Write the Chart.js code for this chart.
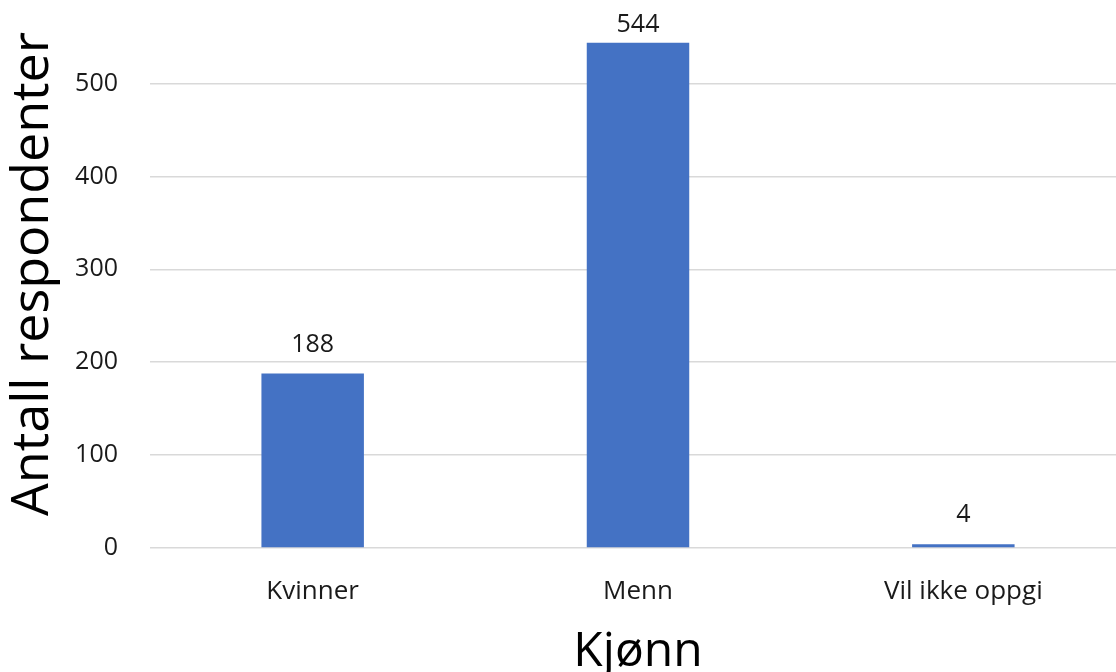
<!DOCTYPE html>
<html>
<head>
<meta charset="utf-8">
<title>Kjønn</title>
<script src="https://cdn.jsdelivr.net/npm/chart.js@4.4.1/dist/chart.umd.min.js"></script>
<style>
  html, body { margin: 0; padding: 0; background: #fff; overflow: hidden; }
  #wrap { width: 1116px; height: 672px; overflow: hidden; position: relative; }
  #chart { position: absolute; left: 0; top: 0; }
</style>
</head>
<body>
<div id="wrap"><canvas id="chart" width="1126" height="672"></canvas></div>
<script>
  // data
  const categories = ['Kvinner', 'Menn', 'Vil ikke oppgi'];
  const respondents = [188, 544, 4];
  const yTicks = [0, 100, 200, 300, 400, 500];

  const BAR_COLOR = '#4472C4';
  const FONT = '"Open Sans", "Liberation Sans", sans-serif';

  // value labels above each bar, kept inside the top of the plot
  const valueLabels = {
    id: 'valueLabels',
    afterDatasetsDraw(chart){
      const ctx = chart.ctx;
      const meta = chart.getDatasetMeta(0);
      ctx.save();
      ctx.font = '25px ' + FONT;
      ctx.fillStyle = '#1a1a1a';
      ctx.textAlign = 'center';
      ctx.textBaseline = 'middle';
      meta.data.forEach((bar, i)=>{
        const y = Math.max(bar.y - 29, 25);
        ctx.fillText(String(respondents[i]), bar.x, y);
      });
      ctx.restore();
    }
  };

  new Chart(document.getElementById('chart').getContext('2d'), {
    type: 'bar',
    data: {
      labels: categories,
      datasets: [{
        data: respondents,
        backgroundColor: BAR_COLOR,
        borderWidth: 0,
        barPercentage: 0.315,
        categoryPercentage: 1
      }]
    },
    options: {
      responsive: false,
      animation: false,
      layout: { padding: 0 },
      plugins: { legend: { display: false }, tooltip: { enabled: false } },
      scales: {
        x: {
          grid: { display: false, drawTicks: false },
          border: { display: false },
          ticks: { color: '#1a1a1a', font: { family: FONT, size: 26 }, padding: 28, maxRotation: 0 },
          title: { display: true, text: 'Kjønn', color: '#000', font: { family: FONT, size: 48, lineHeight: 0.8 }, padding: 0 },
          afterFit(scale){ scale.height = 124; scale.paddingLeft = 0; scale.paddingRight = 0; }
        },
        y: {
          min: 0,
          max: 590,
          afterBuildTicks(axis){ axis.ticks = yTicks.map(v=>({ value: v })); },
          grid: { color: '#d9d9d9', lineWidth: 1.5, drawTicks: false },
          border: { display: false },
          ticks: { color: '#1a1a1a', font: { family: FONT, size: 25 }, padding: 32 },
          title: { display: true, text: 'Antall respondenter', color: '#000', font: { family: FONT, size: 52 }, padding: { top: 2, bottom: 0 } },
          // keep the plot flush with the top edge and a fixed axis width
          afterFit(scale){ scale.width = 150; scale.paddingTop = 0; scale.paddingBottom = 0; }
        }
      }
    },
    plugins: [valueLabels]
  });
</script>
</body>
</html>
